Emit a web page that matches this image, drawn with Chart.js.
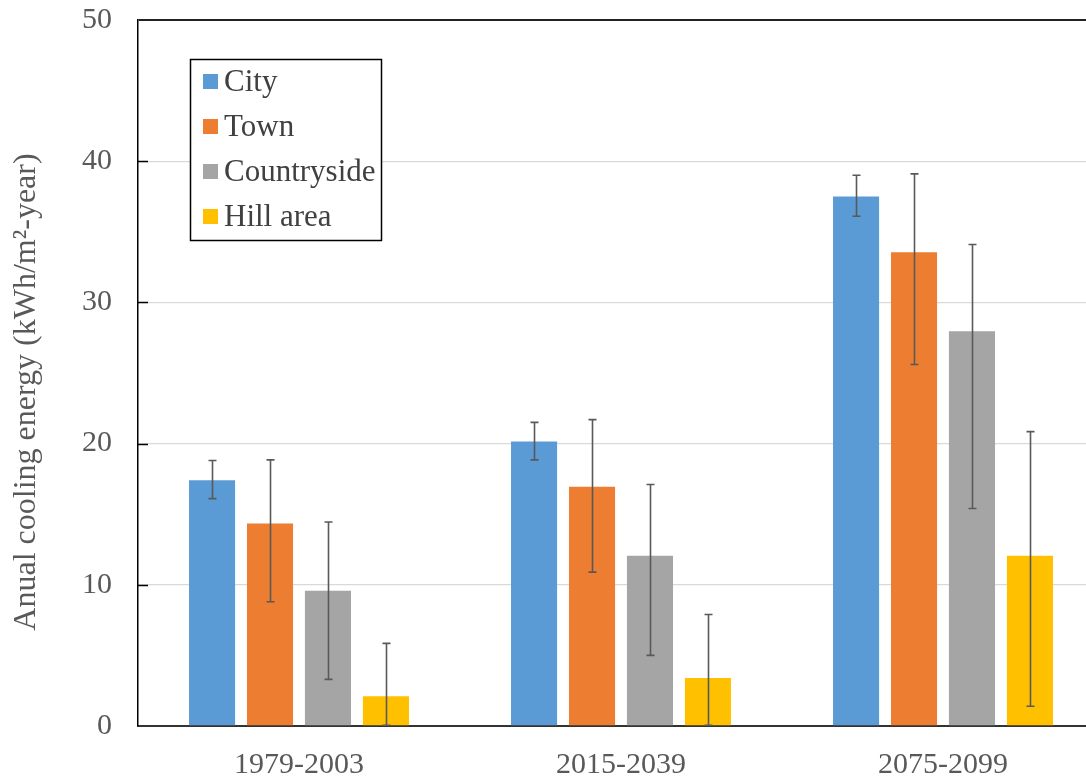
<!DOCTYPE html>
<html>
<head>
<meta charset="utf-8">
<title>Annual cooling energy by area</title>
<script src="https://cdn.jsdelivr.net/npm/chart.js@4/dist/chart.umd.min.js"></script>
<style>
  html, body { margin: 0; padding: 0; background: #ffffff; overflow: hidden; }
  #wrap { width: 1104px; height: 828px; margin-top: -24px; }
  canvas { display: block; }
</style>
</head>
<body>
<div id="wrap"><canvas id="chart" width="1104" height="828"></canvas></div>
<script>
// Periods on the x axis
const periods = ['1979-2003', '2015-2039', '2075-2099'];

// Series names and colours
const regions = ['City', 'Town', 'Countryside', 'Hill area'];
const colors = ['#5B9BD5', '#ED7D31', '#A5A5A5', '#FFC000'];

// Mean annual cooling energy (kWh/m²-year)
const city = [17.4, 20.15, 37.5];
const town = [14.35, 16.95, 33.55];
const countryside = [9.58, 12.05, 27.95];
const hillArea = [2.1, 3.4, 12.05];

// Upper and lower ends of the error bars
const cityHigh = [18.8, 21.5, 39.0];
const cityLow = [16.1, 18.85, 36.1];
const townHigh = [18.85, 21.7, 39.1];
const townLow = [8.8, 10.9, 25.6];
const countrysideHigh = [14.45, 17.1, 34.1];
const countrysideLow = [3.3, 5.0, 15.4];
const hillAreaHigh = [5.85, 7.9, 20.85];
const hillAreaLow = [0.05, 0.05, 1.4];

// Y axis ticks
const yMin = 0, yMax = 50, yStep = 10;

const seriesValues = [city, town, countryside, hillArea];
const seriesHigh = [cityHigh, townHigh, countrysideHigh, hillAreaHigh];
const seriesLow = [cityLow, townLow, countrysideLow, hillAreaLow];

const FONT = '"Liberation Serif", "Times New Roman", serif';
const SHIFT = 24; // the canvas sits this many pixels above the page top

// Error bars drawn over each bar
const errorBars = {
  id: 'errorBars',
  afterDatasetsDraw(chart) {
    const ctx = chart.ctx;
    const y = chart.scales.y;
    ctx.save();
    ctx.strokeStyle = '#595959';
    ctx.lineWidth = 1.6;
    chart.data.datasets.forEach((ds, i) => {
      const meta = chart.getDatasetMeta(i);
      meta.data.forEach((bar, j) => {
        const yh = y.getPixelForValue(ds.errHigh[j]);
        const yl = y.getPixelForValue(ds.errLow[j]);
        const x = Math.round(bar.x) + 0.5;
        ctx.beginPath();
        ctx.moveTo(x, yh); ctx.lineTo(x, yl);
        ctx.moveTo(x - 4, yh); ctx.lineTo(x + 4, yh);
        ctx.moveTo(x - 4, yl); ctx.lineTo(x + 4, yl);
        ctx.stroke();
      });
    });
    ctx.restore();
  }
};

// Inside tick marks on the value axis, axis title and boxed legend
const frame = {
  id: 'frame',
  afterDraw(chart) {
    const ctx = chart.ctx;
    const y = chart.scales.y;
    const area = chart.chartArea;
    ctx.save();

    // inward tick marks
    ctx.strokeStyle = '#000000';
    ctx.lineWidth = 1.5;
    for (let v = yMin + yStep; v < yMax; v += yStep) {
      const py = Math.round(y.getPixelForValue(v)) + 0.5;
      ctx.beginPath();
      ctx.moveTo(area.left, py);
      ctx.lineTo(area.left + 10, py);
      ctx.stroke();
    }

    // value axis title
    ctx.fillStyle = '#595959';
    ctx.font = '32px ' + FONT;
    ctx.textAlign = 'center';
    ctx.textBaseline = 'middle';
    ctx.translate(27, 392 + SHIFT);
    ctx.rotate(-Math.PI / 2);
    ctx.fillText('Anual cooling energy (kWh/m\u00B2-year)', 0, 0);
    ctx.setTransform(1, 0, 0, 1, 0, 0);

    // legend box
    const lx = 190, ly = 59 + SHIFT, lw = 191, lh = 181;
    ctx.fillStyle = '#ffffff';
    ctx.fillRect(lx, ly, lw, lh);
    ctx.strokeStyle = '#000000';
    ctx.lineWidth = 1.5;
    ctx.strokeRect(lx + 0.5, ly + 0.5, lw, lh);
    ctx.font = '31px ' + FONT;
    ctx.textAlign = 'left';
    ctx.textBaseline = 'middle';
    chart.data.datasets.forEach((ds, i) => {
      const cy = 82 + SHIFT + i * 45;
      ctx.fillStyle = ds.backgroundColor;
      ctx.fillRect(203, cy - 8, 15, 15);
      ctx.fillStyle = '#404040';
      ctx.fillText(ds.label, 224, cy + 1);
    });
    ctx.restore();
  }
};

const datasets = regions.map((name, i) => ({
  label: name,
  data: seriesValues[i],
  errHigh: seriesHigh[i],
  errLow: seriesLow[i],
  backgroundColor: colors[i],
  borderWidth: 0,
  barPercentage: 0.795,
  categoryPercentage: 0.72
}));

new Chart(document.getElementById('chart'), {
  type: 'bar',
  data: { labels: periods, datasets },
  options: {
    responsive: false,
    animation: false,
    devicePixelRatio: 1,
    layout: { padding: { top: 20, right: 0, bottom: 0, left: 0 } },
    plugins: { legend: { display: false }, tooltip: { enabled: false } },
    scales: {
      x: {
        grid: { display: false, drawTicks: false },
        border: { display: true, color: '#333333', width: 2 },
        ticks: { color: '#595959', font: { family: FONT, size: 30 }, padding: 21 }
      },
      y: {
        min: yMin,
        max: yMax,
        afterFit(scale) { scale.width = 138; },
        ticks: { stepSize: yStep, color: '#595959', font: { family: FONT, size: 30 }, padding: 26 },
        grid: {
          drawTicks: false,
          color: (c) => (c.tick && c.tick.value === yMax ? '#222222' : '#d9d9d9'),
          lineWidth: (c) => (c.tick && c.tick.value === yMax ? 2 : 1.3)
        },
        border: { display: true, color: '#000000', width: 1.5 }
      }
    }
  },
  plugins: [errorBars, frame]
});
</script>
</body>
</html>
